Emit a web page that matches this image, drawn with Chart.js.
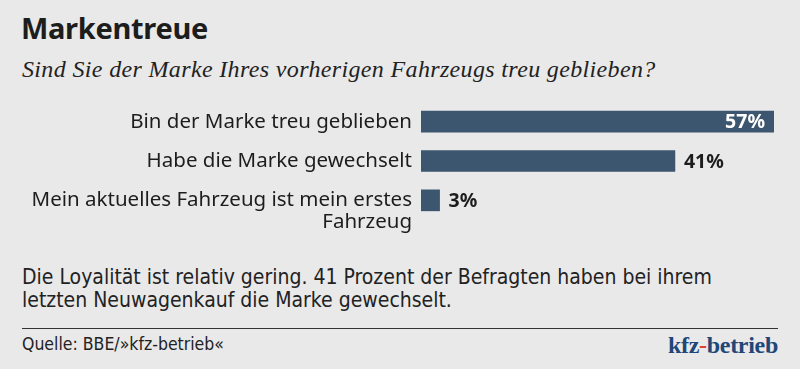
<!DOCTYPE html>
<html lang="de">
<head>
<meta charset="utf-8">
<script src="https://cdn.jsdelivr.net/npm/chart.js@4"></script>
<style>
  html, body { margin: 0; padding: 0; }
  body { width: 800px; height: 369px; background: #e9e9e9; position: relative; overflow: hidden; color: #1d1d1d; }
  .abs { position: absolute; white-space: nowrap; }
  #title { left: 21px; top: 8px; font: bold 29px/40px 'Noto Sans', sans-serif; letter-spacing: -0.3px; }
  #subtitle { left: 22px; top: 55px; font: italic 24px/28px 'Liberation Serif', serif; color: #222; letter-spacing: 0.35px; }
  #chartBox { left: 0; top: 100px; width: 800px; height: 140px; }
  .note { left: 22px; font: 21px/24px 'DejaVu Sans Condensed', sans-serif; color: #222; }
  #rule { left: 22px; top: 328px; width: 756px; height: 1px; background: #333; }
  #source { left: 22px; top: 334px; font: 17.5px/20px 'DejaVu Sans Condensed', sans-serif; color: #222; }
  #logo { right: 22px; top: 331px; font: bold 24px/28px 'Liberation Serif', serif; color: #1f4778; letter-spacing: -0.3px; }
  #logo span { color: #d9432f; }
</style>
</head>
<body>
<div id="title" class="abs">Markentreue</div>
<div id="subtitle" class="abs">Sind Sie der Marke Ihres vorherigen Fahrzeugs treu geblieben?</div>
<div id="chartBox" class="abs"><canvas id="chart"></canvas></div>
<div class="abs note" style="top: 265px;">Die Loyalität ist relativ gering. 41 Prozent der Befragten haben bei ihrem</div>
<div class="abs note" style="top: 288px;">letzten Neuwagenkauf die Marke gewechselt.</div>
<div id="rule" class="abs"></div>
<div id="source" class="abs">Quelle: BBE/»kfz-betrieb«</div>
<div id="logo" class="abs">kfz<span>-</span>betrieb</div>

<script>
// Data
const categories = [
  ['Bin der Marke treu geblieben'],
  ['Habe die Marke gewechselt'],
  ['Mein aktuelles Fahrzeug ist mein erstes', 'Fahrzeug'],
];
const shares = [57, 41, 3];

const barColor = '#3d566f';
const labelFont = "20.5px 'Noto Sans', sans-serif";
const valueFont = "bold 19.5px 'Noto Sans', sans-serif";

// Category labels left of the bars, first line level with the bar
const sideLabels = {
  id: 'sideLabels',
  afterDraw(c) {
    const { ctx, scales: { y }, chartArea } = c;
    ctx.save();
    ctx.font = labelFont;
    ctx.fillStyle = '#1d1d1d';
    ctx.textAlign = 'right';
    ctx.textBaseline = 'middle';
    categories.forEach((lines, i) => {
      const yc = y.getPixelForValue(i);
      lines.forEach((line, j) => {
        ctx.fillText(line, chartArea.left - 9, yc + j * 22);
      });
    });
    ctx.restore();
  },
};

// Percent labels: inside the longest bar in white, otherwise behind the bar
const valueLabels = {
  id: 'valueLabels',
  afterDatasetsDraw(c) {
    const { ctx } = c;
    const meta = c.getDatasetMeta(0);
    const top = Math.max(...shares);
    ctx.save();
    ctx.font = valueFont;
    ctx.textBaseline = 'middle';
    meta.data.forEach((bar, i) => {
      const text = `${shares[i]}%`;
      if (shares[i] === top) {
        ctx.fillStyle = '#ffffff';
        ctx.textAlign = 'right';
        ctx.fillText(text, bar.x - 9, bar.y + 1);
      } else {
        ctx.fillStyle = '#1d1d1d';
        ctx.textAlign = 'left';
        ctx.fillText(text, bar.x + 9, bar.y + 1);
      }
    });
    ctx.restore();
  },
};

new Chart(document.getElementById('chart'), {
  type: 'bar',
  data: {
    labels: categories.map((l) => l.join(' ')),
    datasets: [{
      data: shares,
      backgroundColor: barColor,
      borderWidth: 0,
      barThickness: 21,
    }],
  },
  options: {
    indexAxis: 'y',
    responsive: true,
    maintainAspectRatio: false,
    animation: false,
    layout: {
      padding: { left: 421, right: 26, top: 2, bottom: 20 },
    },
    scales: {
      x: { display: false, min: 0, max: Math.max(...shares) },
      y: { display: false },
    },
    plugins: {
      legend: { display: false },
      tooltip: { enabled: false },
    },
  },
  plugins: [sideLabels, valueLabels],
});
</script>
</body>
</html>
